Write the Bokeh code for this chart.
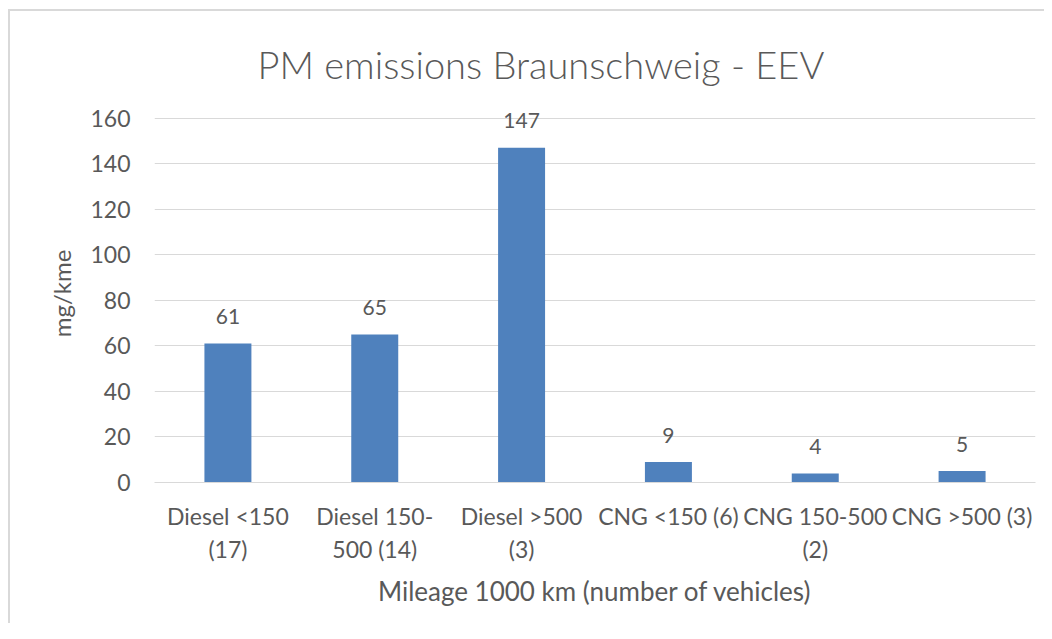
from bokeh.plotting import figure
from bokeh.models import Title, FixedTicker, ColumnDataSource, LabelSet
from bokeh.core.properties import value
from bokeh.embed import file_html
from bokeh.resources import INLINE

categories = ["Diesel <150\n(17)", "Diesel 150-\n500 (14)", "Diesel >500\n(3)",
              "CNG <150 (6)", "CNG 150-500\n(2)", "CNG >500 (3)"]
values = [61, 65, 147, 9, 4, 5]
labels = ["61", "65", "147", "9", "4", "5"]
y_ticks = [0, 20, 40, 60, 80, 100, 120, 140, 160]

FONT = "Lato"
TXT = "#595959"
GRID = "#d9d9d9"

src = ColumnDataSource(dict(x=categories, top=values, label=labels))

p = figure(x_range=categories, y_range=(0, 166), width=1036, height=623,
           frame_height=378,
           output_backend="svg", toolbar_location=None,
           min_border_left=144, min_border_right=11, min_border_top=93,
           min_border_bottom=141)

p.vbar(x="x", top="top", width=0.32, color="#4F81BD", line_color=None, source=src)
p.add_layout(LabelSet(x="x", y="top", text="label", source=src,
                      text_align="center", text_baseline="middle", y_offset=27,
                      text_font=value(FONT), text_font_size=value("21px"),
                      text_color=TXT))

t = Title(text="PM emissions Braunschweig - EEV", align="left", offset=103,
          text_font="Lato Light, Lato", text_font_size="38px", text_font_style="normal",
          text_color=TXT, standoff=36)
p.add_layout(t, "above")

p.outline_line_color = None
p.xgrid.grid_line_color = None
p.ygrid.grid_line_color = GRID
p.ygrid.grid_line_width = 1
p.yaxis.ticker = FixedTicker(ticks=y_ticks)

p.yaxis.axis_line_color = None
p.yaxis.major_tick_line_color = None
p.yaxis.minor_tick_line_color = None
p.yaxis.major_label_text_font = FONT
p.yaxis.major_label_text_font_size = "23px"
p.yaxis.major_label_text_color = TXT
p.yaxis.major_label_standoff = 18
p.yaxis.axis_label = "mg/kme"
p.yaxis.axis_label_text_font = FONT
p.yaxis.axis_label_text_font_size = "24px"
p.yaxis.axis_label_text_font_style = "normal"
p.yaxis.axis_label_text_color = TXT
p.yaxis.axis_label_standoff = 11

p.xaxis.axis_line_color = GRID
p.xaxis.axis_line_width = 1
p.xaxis.major_tick_line_color = None
p.xaxis.minor_tick_line_color = None
p.xaxis.major_label_text_font = FONT
p.xaxis.major_label_text_font_size = "23px"
p.xaxis.major_label_text_color = TXT
p.xaxis.major_label_text_line_height = 1.2
p.xaxis.major_label_standoff = 13
p.xaxis.axis_label = "Mileage 1000 km (number of vehicles)"
p.xaxis.axis_label_text_font = FONT
p.xaxis.axis_label_text_font_size = "26px"
p.xaxis.axis_label_text_font_style = "normal"
p.xaxis.axis_label_text_color = TXT
p.xaxis.axis_label_standoff = 9

p.styles = {"margin-left": "8px", "margin-top": "9px",
            "border-left": "2px solid #d9d9d9", "border-top": "2px solid #d9d9d9"}

open("out.html", "w").write(file_html(p, INLINE))
